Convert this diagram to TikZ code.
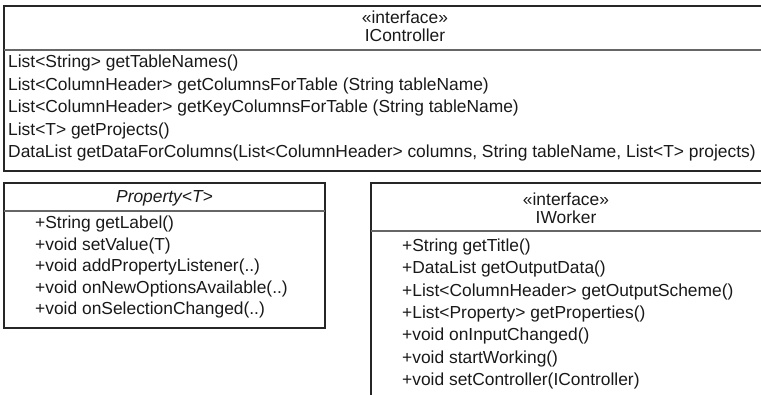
\documentclass[tikz,border=0pt]{standalone}
\usepackage{fontspec}
\setmainfont{Liberation Sans}
\begin{document}
\begin{tikzpicture}[x=1pt, y=-1pt,
  every node/.style={font=\fontsize{17.4}{19}\selectfont, inner sep=0pt, text=black!90},
  member/.style={anchor=west},
  classname/.style={align=center, font=\fontsize{17.4}{18}\selectfont},
  classbox/.style={draw=black!85, line width=1.3pt},
  divider/.style={draw=black!60, line width=1.3pt}]
\useasboundingbox (0,0) rectangle (761,394);
\clip (0,0) rectangle (761,394);
% IController
\draw[classbox] (4,6) rectangle (806,171);
\draw[divider] (4,50) -- (806,50);
\node[classname] (ctrl) at (405,26) {«interface»\\IController};
\node[member] (ctrl1) at (8,63) {List<String> getTableNames()};
\node[member] (ctrl2) at (8,85.5) {List<ColumnHeader> getColumnsForTable (String tableName)};
\node[member] (ctrl3) at (8,108) {List<ColumnHeader> getKeyColumnsForTable (String tableName)};
\node[member] (ctrl4) at (8,130.5) {List<T> getProjects()};
\node[member] (ctrl5) at (8,153) {DataList getDataForColumns(List<ColumnHeader> columns, String tableName, List<T> projects)};
% Property<T>
\draw[classbox] (4,183) rectangle (325,328);
\draw[divider] (4,211) -- (325,211);
\node[classname, font=\fontsize{17.4}{18}\selectfont\itshape] (prop) at (164.5,198) {Property<T>};
\node[member] (prop1) at (35,224) {+String getLabel()};
\node[member] (prop2) at (35,245.5) {+void setValue(T)};
\node[member] (prop3) at (35,267) {+void addPropertyListener(..)};
\node[member] (prop4) at (35,288.5) {+void onNewOptionsAvailable(..)};
\node[member] (prop5) at (35,310) {+void onSelectionChanged(..)};
% IWorker
\draw[classbox] (371,183) rectangle (765,420);
\draw[divider] (371,231) -- (765,231);
\node[classname] (work) at (566,208) {«interface»\\IWorker};
\node[member] (work1) at (402,247) {+String getTitle()};
\node[member] (work2) at (402,269.3) {+DataList getOutputData()};
\node[member] (work3) at (402,291.7) {+List<ColumnHeader> getOutputScheme()};
\node[member] (work4) at (402,314) {+List<Property> getProperties()};
\node[member] (work5) at (402,336.3) {+void onInputChanged()};
\node[member] (work6) at (402,358.7) {+void startWorking()};
\node[member] (work7) at (402,381) {+void setController(IController)};
\end{tikzpicture}
\end{document}
